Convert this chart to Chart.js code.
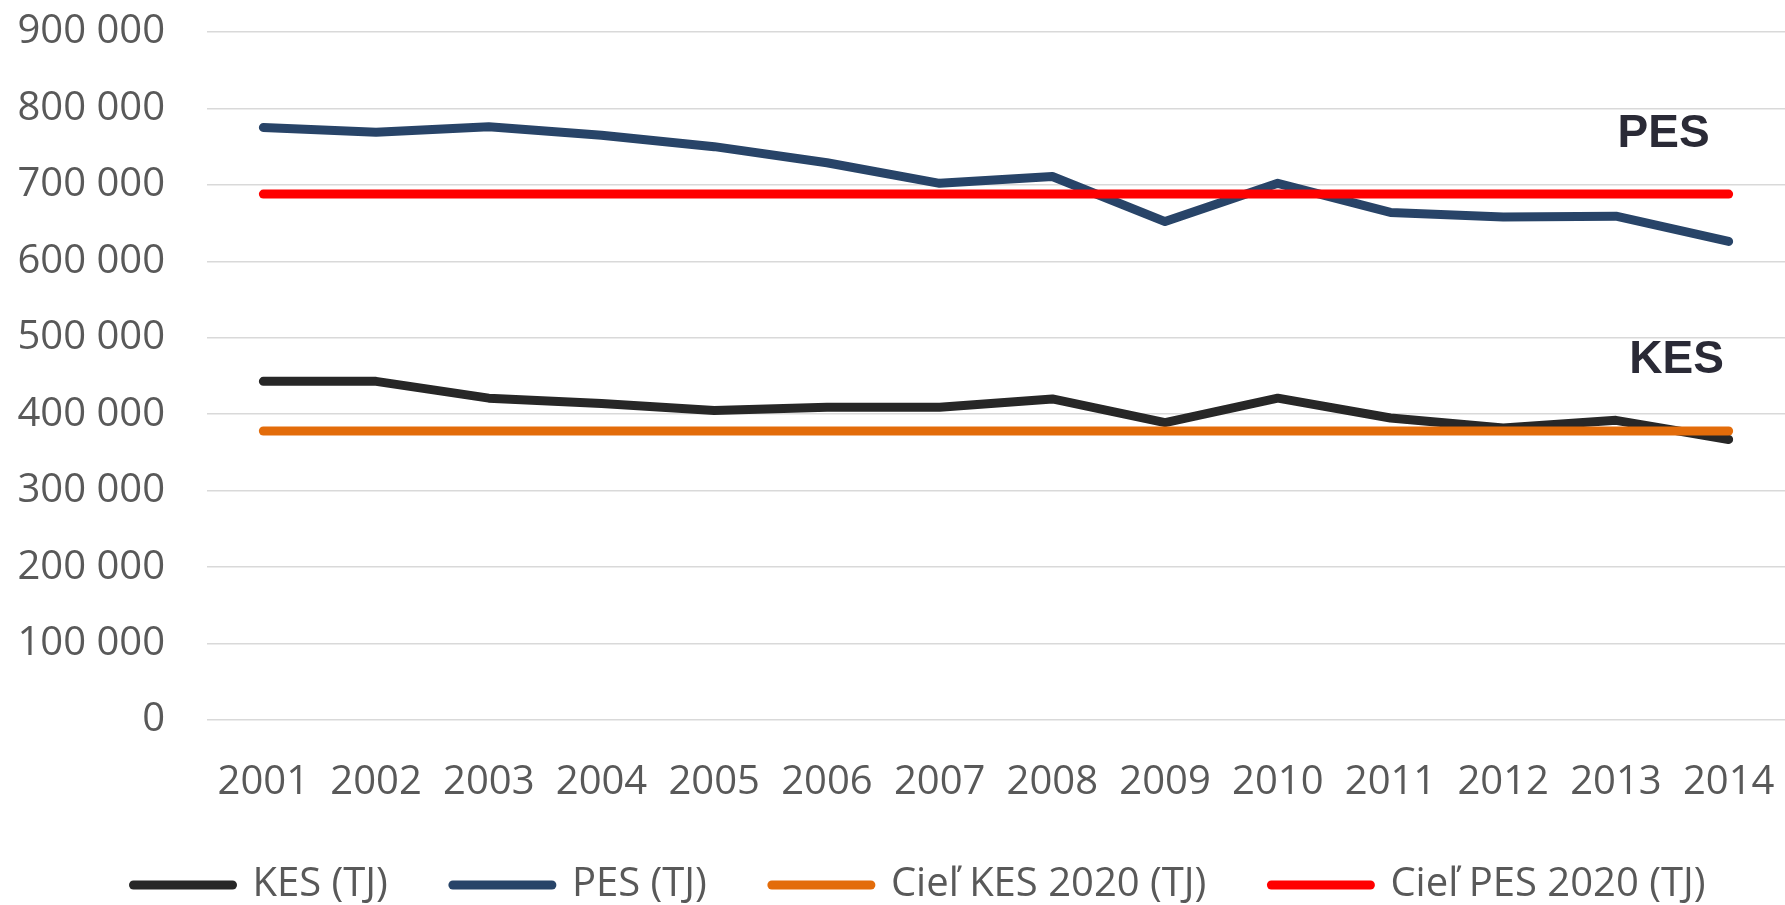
<!DOCTYPE html>
<html>
<head>
<meta charset="utf-8">
<script src="https://cdn.jsdelivr.net/npm/chart.js@4"></script>
<style>
  html, body { margin: 0; padding: 0; background: #fff; }
  #wrap { width: 1785px; height: 905px; }
</style>
</head>
<body>
<div id="wrap"><canvas id="chart"></canvas></div>
<script>
const years = ["2001", "2002", "2003", "2004", "2005", "2006", "2007", "2008", "2009", "2010", "2011", "2012", "2013", "2014"];
const kes = [443000, 443000, 421000, 414000, 405000, 409000, 409000, 420000, 389000, 421000, 395000, 382000, 392000, 367000];
const pes = [775000, 769000, 776000, 765000, 750000, 729000, 702000, 711000, 652000, 702000, 664000, 658000, 659000, 626000];
const cielKes = [378000, 378000, 378000, 378000, 378000, 378000, 378000, 378000, 378000, 378000, 378000, 378000, 378000, 378000];
const cielPes = [688000, 688000, 688000, 688000, 688000, 688000, 688000, 688000, 688000, 688000, 688000, 688000, 688000, 688000];
const yTicks = [0, 100000, 200000, 300000, 400000, 500000, 600000, 700000, 800000, 900000];

// bold tags next to the series, placed in data units
const tags = [
  { text: "PES", value: 766000, shift: -65 },
  { text: "KES", value: 471000, shift: -52 }
];

const font = "'Open Sans', 'DejaVu Sans', sans-serif";

const tagPlugin = {
  id: "tags",
  afterLayout(chart) {
    // legend sits a bit right of the page centre in the original
    chart.legend.left += 27;
    chart.legend.right += 27;
  },
  afterDatasetsDraw(chart) {
    const ctx = chart.ctx;
    const x = chart.scales.x;
    const y = chart.scales.y;
    ctx.save();
    ctx.font = "bold 46px 'Liberation Sans', Arial, sans-serif";
    ctx.fillStyle = "#2a2a36";
    ctx.textAlign = "center";
    ctx.textBaseline = "middle";
    tags.forEach((t) => {
      ctx.fillText(t.text, x.getPixelForValue(years.length - 1) + t.shift, y.getPixelForValue(t.value));
    });
    ctx.restore();
  }
};

function line(label, data, color, order) {
  return {
    label: label,
    data: data,
    borderColor: color,
    backgroundColor: color,
    borderWidth: 9,
    borderCapStyle: "round",
    borderJoinStyle: "round",
    pointRadius: 0,
    pointHoverRadius: 0,
    tension: 0,
    order: order
  };
}

new Chart(document.getElementById("chart"), {
  type: "line",
  data: {
    labels: years,
    datasets: [
      line("KES (TJ)", kes, "#272727", 1),
      line("PES (TJ)", pes, "#284468", 1),
      line("Cieľ KES 2020 (TJ)", cielKes, "#e36c0a", 0),
      line("Cieľ PES 2020 (TJ)", cielPes, "#ff0000", 0)
    ]
  },
  options: {
    responsive: true,
    maintainAspectRatio: false,
    animation: false,
    layout: { padding: 0 },
    plugins: {
      tooltip: { enabled: false },
      legend: {
        position: "bottom",
        maxHeight: 105,
        labels: {
          usePointStyle: true,
          pointStyle: "line",
          pointStyleWidth: 99,
          padding: 65,
          color: "#595959",
          font: { family: font, size: 40 },
          sort: (a, b) => a.datasetIndex - b.datasetIndex,
          generateLabels: (chart) =>
            Chart.defaults.plugins.legend.labels.generateLabels(chart).map((l) => ({ ...l, lineCap: "round" }))
        }
      }
    },
    scales: {
      x: {
        offset: true,
        afterFit: (scale) => { scale.height = 80; scale.paddingLeft = 0; scale.paddingRight = 0; },
        grid: { display: false, drawTicks: false },
        border: { display: false },
        ticks: { color: "#595959", font: { family: font, size: 40 }, padding: 39, maxRotation: 0, autoSkip: false }
      },
      y: {
        min: 0,
        max: 900000,
        afterBuildTicks: (scale) => { scale.ticks = yTicks.map((v) => ({ value: v })); },
        afterFit: (scale) => { scale.width = 207; scale.paddingTop = 32; scale.paddingBottom = 0; },
        grid: { color: "#d9d9d9", lineWidth: 1.5, drawTicks: false },
        border: { display: false },
        ticks: {
          color: "#595959",
          font: { family: font, size: 40 },
          padding: 42,
          callback: (v) => String(v).replace(/\B(?=(\d{3})+(?!\d))/g, " ")
        }
      }
    }
  },
  plugins: [tagPlugin]
});
</script>
</body>
</html>
